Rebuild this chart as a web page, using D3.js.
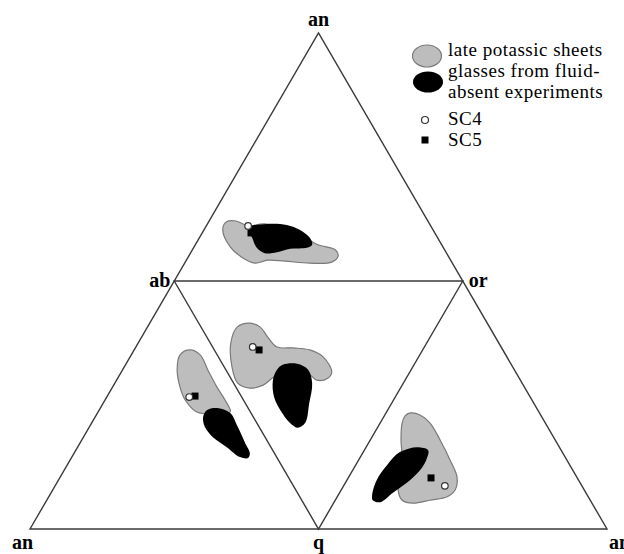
<!DOCTYPE html>
<html>
<head>
<meta charset="utf-8">
<script src="https://cdn.jsdelivr.net/npm/d3@7"></script>
<style>
body{margin:0;background:#fff;}
text{font-family:"Liberation Serif","DejaVu Serif",serif;}
</style>
</head>
<body>
<script>
// diagram frame coords: u across the base (0-100), v up the height (0-100)
var vertices = [
  {name:"an", u:50, v:100, anchor:"middle", dx:0, dy:-7},
  {name:"ab", u:25, v:50, anchor:"end", dx:-4, dy:6},
  {name:"or", u:75, v:50, anchor:"start", dx:6, dy:6},
  {name:"an", u:0, v:0, anchor:"start", dx:-18, dy:20},
  {name:"q", u:50, v:0, anchor:"middle", dx:0, dy:20},
  {name:"an", u:100, v:0, anchor:"start", dx:2, dy:20}
];

// late potassic sheets (grey fields)
var sheetsTop = [[33.4,60.3],[34.0,61.9],[35.7,62.1],[37.8,61.1],[40.7,61.5],[46.8,59.3],[49.9,57.3],[52.9,56.3],[53.4,55.0],[52.3,53.8],[48.5,53.6],[44.2,54.0],[41.2,54.2],[39.0,53.6],[36.7,54.8],[34.7,56.9]];
var sheetsLeft = [[27.7,36.1],[26.0,35.1],[25.5,32.1],[26.0,28.6],[26.9,26.0],[28.9,23.6],[32.1,23.2],[34.7,23.6],[33.8,26.0],[32.4,28.6],[30.8,32.1],[29.5,35.1]];
var sheetsCenter = [[35.9,40.7],[38.1,41.5],[39.9,40.7],[41.2,38.7],[42.8,36.7],[45.6,36.5],[48.5,36.1],[50.8,34.7],[52.3,31.7],[51.6,30.4],[49.7,30.0],[48.0,31.5],[42.8,31.0],[40.4,29.0],[38.1,28.4],[36.0,29.4],[35.0,32.7],[34.8,37.5]];
var sheetsRight = [[65.9,23.4],[67.6,23.0],[69.3,21.4],[71.1,17.9],[72.8,13.9],[74.0,10.5],[73.7,7.9],[72.3,6.5],[69.3,5.8],[66.4,5.2],[64.5,5.8],[63.8,7.9],[64.1,10.5],[64.5,14.5],[64.3,17.9],[64.5,21.4],[65.0,22.8]];

// glasses from fluid-absent experiments (black fields)
var glassTop = [[38.1,60.9],[41.1,61.5],[44.5,61.3],[46.8,60.3],[48.5,58.7],[48.9,57.3],[48.0,56.7],[45.1,56.5],[42.8,55.8],[40.7,55.6],[39.3,56.7],[38.5,58.7],[38.0,59.9]];
var glassLeft = [[30.7,24.0],[32.4,24.4],[34.7,23.4],[36.0,20.6],[37.3,17.3],[38.1,15.3],[37.8,14.3],[36.4,14.5],[34.1,16.5],[31.7,18.5],[30.3,20.6],[30.0,22.6]];
var glassCenter = [[43.8,33.1],[46.3,33.3],[48.2,32.1],[48.9,29.4],[48.4,25.4],[47.7,21.4],[46.4,20.4],[45.4,21.0],[43.7,23.4],[42.3,26.6],[42.1,30.0],[42.8,32.1]];
var glassRight = [[69.0,15.9],[67.1,16.5],[64.1,15.5],[61.9,12.9],[60.1,9.9],[59.3,6.9],[59.4,5.8],[60.7,5.4],[62.9,7.3],[65.9,9.9],[67.9,12.3],[68.8,14.3]];

var sc4 = [[37.8,61.1],[27.6,26.6],[38.6,36.7],[71.9,8.7]];
var sc5 = [[38.3,59.7],[28.6,26.8],[39.7,36.1],[69.5,10.3]];

var legendLabels = ["late potassic sheets","glasses from fluid-","absent experiments","SC4","SC5"];

var width = 624, height = 554;
var svg = d3.select("body").append("svg")
  .attr("width", width).attr("height", height);

var x = d3.scaleLinear().domain([0,100]).range([30,607]);
var y = d3.scaleLinear().domain([0,100]).range([529,33]);

var line = d3.line().x(d => x(d[0])).y(d => y(d[1]));
var blob = d3.line().x(d => x(d[0])).y(d => y(d[1])).curve(d3.curveCatmullRomClosed.alpha(0.5));

// outer triangle and inner triangle
var outer = [[0,0],[100,0],[50,100]];
var inner = [[25,50],[75,50],[50,0]];
svg.append("path").attr("d", line(outer) + "Z")
  .attr("fill","none").attr("stroke","#3a3a3a").attr("stroke-width",1.4);
svg.append("path").attr("d", line(inner) + "Z")
  .attr("fill","none").attr("stroke","#3a3a3a").attr("stroke-width",1.4);

// grey fields
[sheetsTop, sheetsLeft, sheetsCenter, sheetsRight].forEach(function(p){
  svg.append("path").attr("d", blob(p))
    .attr("fill","#bdbdbd").attr("stroke","#7a7a7a").attr("stroke-width",1.2);
});
// black fields
[glassTop, glassLeft, glassCenter, glassRight].forEach(function(p){
  svg.append("path").attr("d", blob(p)).attr("fill","#000");
});

svg.selectAll(".sc5").data(sc5).enter().append("rect")
  .attr("x", d => x(d[0]) - 3.5).attr("y", d => y(d[1]) - 3.5)
  .attr("width",7).attr("height",7).attr("fill","#000");
svg.selectAll(".sc4").data(sc4).enter().append("circle")
  .attr("cx", d => x(d[0])).attr("cy", d => y(d[1])).attr("r",3.3)
  .attr("fill","#fff").attr("stroke","#333").attr("stroke-width",1.2);

// vertex labels
svg.selectAll(".vlab").data(vertices).enter().append("text")
  .attr("x", d => x(d.u) + d.dx).attr("y", d => y(d.v) + d.dy)
  .attr("text-anchor", d => d.anchor)
  .style("font-size","20px").style("font-weight","bold")
  .text(d => d.name);

// legend
var lg = svg.append("g");
lg.append("ellipse").attr("cx",427).attr("cy",56).attr("rx",14.5).attr("ry",11)
  .attr("fill","#bdbdbd").attr("stroke","#7a7a7a").attr("stroke-width",1.2);
lg.append("ellipse").attr("cx",428).attr("cy",82).attr("rx",15).attr("ry",10.5)
  .attr("fill","#000");
lg.append("circle").attr("cx",425).attr("cy",120).attr("r",3.5)
  .attr("fill","#fff").attr("stroke","#333").attr("stroke-width",1.2);
lg.append("rect").attr("x",421.5).attr("y",136.5).attr("width",7).attr("height",7)
  .attr("fill","#000");

var legendY = [56,77,98,125,146];
lg.selectAll(".ltxt").data(legendLabels).enter().append("text")
  .attr("x",448).attr("y",(d,i) => legendY[i])
  .style("font-size","19px").style("letter-spacing","0.5px")
  .text(d => d);
</script>
</body>
</html>
